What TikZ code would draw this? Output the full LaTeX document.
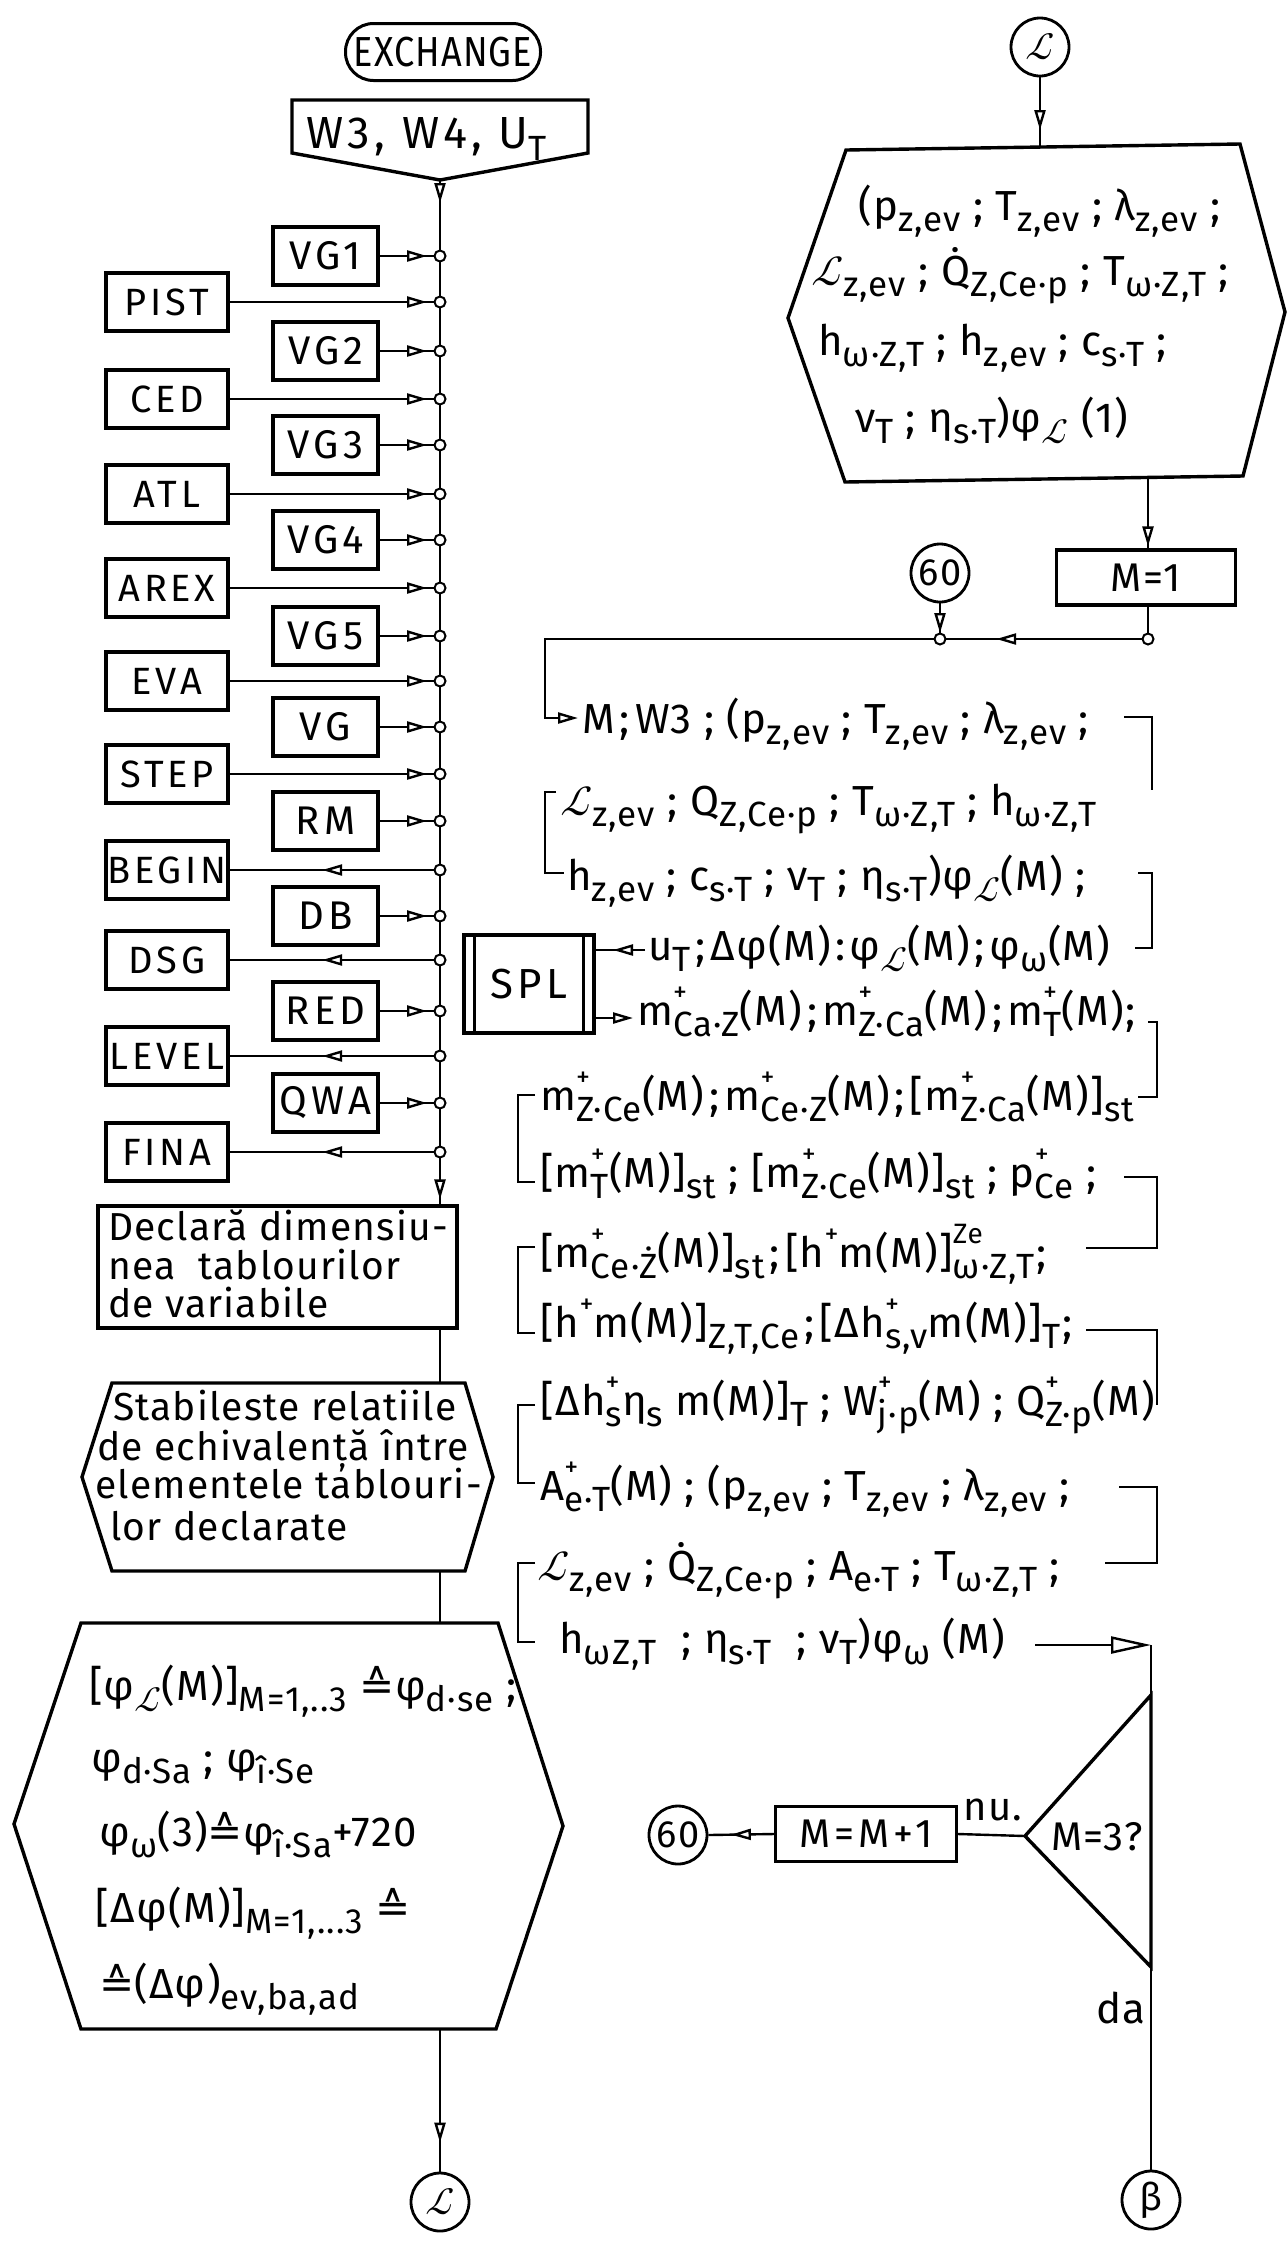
\documentclass[tikz,border=0pt]{standalone}
\usepackage{fontspec}
\setmainfont{Fira Sans}[LetterSpace=3]
\newfontfamily\widefont{Fira Sans}[LetterSpace=10]
\newfontfamily\lmmfont{latinmodern-math.otf}
\newfontfamily\djvfont{DejaVu Sans}
\usetikzlibrary{arrows.meta,decorations.markings,calc}
\newcommand\xSB[1]{\raisebox{-0.27em}{\fontsize{35}{35}\selectfont #1}}
\newcommand\xSP[1]{\raisebox{0.55em}{\fontsize{28}{28}\selectfont #1}}
\newcommand\xPB[2]{\rlap{\xSP{#1}}\xSB{#2}}
\newcommand\scL{{\lmmfont ℒ}}
\newcommand\crs{{\djvfont ≙}}
\newcommand\sm{\hspace{0.12em};\hspace{0.12em}}
\tikzset{
 conn/.style={line width=2.4pt},
 shp/.style={line width=3.4pt, line join=miter},
 bx/.style={draw, line width=3.2pt, inner sep=0pt, font=\fontsize{40}{44}\selectfont},
 lbx/.style={bx, minimum width=122pt, minimum height=58pt, font=\widefont\fontsize{38}{40}\selectfont},
 rbx/.style={bx, minimum width=105pt, minimum height=58pt, font=\widefont\fontsize{40}{44}\selectfont},
 conc/.style={circle, draw, line width=2.8pt, minimum size=58pt, inner sep=0pt, font=\fontsize{38}{40}\selectfont},
 junc/.style={circle, draw, fill=white, line width=2pt, minimum size=11pt, inner sep=0pt},
 txt/.style={inner sep=0pt, anchor=base west, font=\fontsize{42}{46}\selectfont},
 ltxt/.style={inner sep=0pt, anchor=base west, font=\fontsize{39}{42}\selectfont},
 brk/.style={line width=2.4pt},
 marr/.style={postaction={decorate}, decoration={markings, mark=at position #1 with {\arrow{Triangle[length=20pt,width=11pt,fill=white]}}}},
 tipend/.style={-{Triangle[length=20pt,width=11pt,fill=white]}},
 bigend/.style={-{Triangle[length=40pt,width=17pt,fill=white]}},
}
\newcommand\lbox[2]{\node[lbx] (#1) at (167,#2) {#1}; \coordinate (j#1) at (440,#2);}
\newcommand\rbox[2]{\node[rbx] (#1) at (325.5,#2) {#1}; \coordinate (j#1) at (440,#2);}
\begin{document}
\begin{tikzpicture}[x=1pt,y=-1pt]
\fill[white] (0,0) rectangle (1288,2244);
\useasboundingbox (0,0) rectangle (1288,2244);

% ---------------- left column ----------------
\node[draw, line width=3pt, rounded corners=28pt, minimum width=195pt, minimum height=57pt, inner sep=0pt, font=\fontsize{42}{44}\selectfont] (exch) at (443,52) {\scalebox{0.86}[1]{EXCHANGE}};
\draw[shp] (292,100) -- (588,100) -- (588,153) -- (440,180) -- (292,153) -- cycle;
\coordinate (w3tip) at (440,180);
\node[txt, font=\widefont\fontsize{45}{48}\selectfont] (w3) at (306,148) {W3, W4, U\xSB{T}};

\rbox{VG1}{256}
\lbox{PIST}{302}
\rbox{VG2}{351}
\lbox{CED}{399}
\rbox{VG3}{445}
\lbox{ATL}{494}
\rbox{VG4}{540}
\lbox{AREX}{588}
\rbox{VG5}{636}
\lbox{EVA}{681}
\rbox{VG}{727}
\lbox{STEP}{774}
\rbox{RM}{821}
\lbox{BEGIN}{870}
\rbox{DB}{916}
\lbox{DSG}{960}
\rbox{RED}{1011}
\lbox{LEVEL}{1056}
\rbox{QWA}{1103}
\lbox{FINA}{1152}

\node[bx, minimum width=359pt, minimum height=122pt] (decl) at (277.5,1267) {};
\node[ltxt] (d1) at (108,1240) {Declară dimensiu-};
\node[ltxt] (d2) at (108,1279) {nea\ \ tablourilor};
\node[ltxt] (d3) at (108,1317) {de variabile};

% main line
\draw[conn, postaction={decorate}, decoration={markings,
   mark=at position 23pt with {\arrow{Triangle[length=20pt,width=11pt,fill=white]}},
   mark=at position -5pt with {\arrow{Triangle[length=20pt,width=11pt,fill=white]}}}]
   (w3tip) -- (w3tip |- decl.north);

\foreach \n in {VG1,PIST,VG2,CED,VG3,ATL,VG4,AREX,VG5,EVA,VG,STEP,RM,DB,RED,QWA}
  \draw[conn, marr=-13pt] (\n) -- (j\n);
\foreach \n in {BEGIN,DSG,LEVEL,FINA}
  \draw[conn, marr=0.56] (j\n) -- (\n);
\foreach \n in {VG1,PIST,VG2,CED,VG3,ATL,VG4,AREX,VG5,EVA,VG,STEP,RM,BEGIN,DB,DSG,RED,LEVEL,QWA,FINA}
  \node[junc] at (j\n) {};

% Stabileste hexagon
\draw[shp] (112,1383) -- (465,1383) -- (493,1477) -- (465,1571) -- (112,1571) -- (82,1477) -- cycle;
\coordinate (stabtop) at (440,1383);
\coordinate (stabbot) at (440,1571);
\node[ltxt] (s1) at (113,1420) {Stabileste relatiile};
\node[ltxt] (s2) at (97,1460) {de echivalență între};
\node[ltxt] (s3) at (95,1498) {elementele tablouri-};
\node[ltxt] (s4) at (110,1540) {lor declarate};
\draw[conn] (decl.south -| w3tip) -- (stabtop);

% big hexagon
\draw[shp] (81,1623) -- (498,1623) -- (563,1826) -- (496,2029) -- (81,2029) -- (14,1824) -- cycle;
\coordinate (bigtop) at (440,1623);
\coordinate (bigbot) at (440,2029);
\draw[conn] (stabbot) -- (bigtop);
\node[txt] (b1) at (89,1700) {[φ\xSB{\scL}(M)]\xSB{M=1,..3} \crs φ\xSB{d·se} ;};
\node[txt] (b2) at (91,1772) {φ\xSB{d·Sa} ; φ\xSB{î·Se}};
\node[txt] (b3) at (99,1846) {φ\xSB{ω}(3)\crs φ\xSB{î·Sa}+720};
\node[txt] (b4) at (95,1922) {[Δφ(M)]\xSB{M=1,...3} \crs};
\node[txt] (b5) at (99,1998) {\crs(Δφ)\xSB{ev,ba,ad}};
\node[conc] (Lb) at (440,2202) {\scL};
\draw[conn, marr=-29pt] (bigbot) -- (Lb);

% ---------------- right column ----------------
\node[conc] (Lt) at (1040,47) {\scL};
\draw[shp] (846,150) -- (1240,144) -- (1285,312) -- (1243,476) -- (845,482) -- (788,318) -- cycle;
\coordinate (htop) at (1040,147);
\coordinate (hbot) at (1148,477);
\draw[conn, marr=-17pt] (Lt) -- (htop);
\node[txt] (h1) at (858,220) {(p\xSB{z,ev} ; T\xSB{z,ev} ; λ\xSB{z,ev} ;};
\node[txt] (h2) at (811,285) {\scL\xSB{z,ev} ; \.{Q}\xSB{Z,Ce·p} ; T\xSB{ω·Z,T} ;};
\node[txt] (h3) at (818,355) {h\xSB{ω·Z,T} ; h\xSB{z,ev} ; c\xSB{s·T} ;};
\node[txt] (h4) at (855,432) {ν\xSB{T} ; η\xSB{s·T})φ\xSB{\scL} (1)};

\node[bx, minimum width=179pt, minimum height=55pt] (m1) at (1146,577.5) {M=1};
\draw[conn, marr=-2pt] (hbot) -- (hbot |- m1.north);
\coordinate (jR) at (1148,639);
\draw[conn] (m1.south -| jR) -- (jR);
\node[conc] (c60a) at (940,573) {60};
\coordinate (jL) at (940,639);
\draw[conn, marr=-6pt] (c60a) -- (jL);
\draw[conn, marr=0.73] (jR) -- (jL);
\coordinate (le) at (578,718);
\draw[conn, tipend] (jL) -- (545,639) |- (le);
\node[junc] at (jR) {};
\node[junc] at (jL) {};

% text block
\node[txt] (l1) at (582,733) {M\sm W3 ; (p\xSB{z,ev} ; T\xSB{z,ev} ; λ\xSB{z,ev} ;};
\node[txt] (l2) at (560,815) {\scL\xSB{z,ev} ; Q\xSB{Z,Ce·p} ; T\xSB{ω·Z,T} ; h\xSB{ω·Z,T}};
\node[txt] (l3) at (567,890) {h\xSB{z,ev} ; c\xSB{s·T} ; ν\xSB{T} ; η\xSB{s·T})φ\xSB{\scL}(M) ;};
\node[txt] (l4) at (648,960) {u\xSB{T}\sm Δφ(M)\hspace{0.1em}:\hspace{0.1em}φ\xSB{\scL}(M)\sm φ\xSB{ω}(M)};
\node[txt] (l5) at (637,1025) {m\xPB{+}{Ca·Z}(M)\sm m\xPB{+}{Z·Ca}(M)\sm m\xPB{+}{T}(M)\hspace{0.05em};};
\node[txt] (l6) at (540,1110) {m\xPB{+}{Z·Ce}(M)\sm m\xPB{+}{Ce·Z}(M)\sm [m\xPB{+}{Z·Ca}(M)]\xSB{st}};
\node[txt] (l7) at (540,1187) {[m\xPB{+}{T}(M)]\xSB{st} ; [m\xPB{+}{Z·Ce}(M)]\xSB{st} ; p\xPB{+}{Ce} ;};
\node[txt] (l8) at (540,1267) {[m\xPB{+}{Ce·Ż}(M)]\xSB{st}\sm [h\xSP{+}m(M)]\xPB{Ze}{ω·Z,T}\hspace{0.05em};};
\node[txt] (l9) at (540,1337) {[h\xSP{+}m(M)]\xSB{Z,T,Ce}\sm [Δh\xPB{+}{s,v}m(M)]\xSB{T}\hspace{0.05em};};
\node[txt] (l10) at (540,1415) {[Δh\xPB{+}{s}η\xSB{s} m(M)]\xSB{T} ; W\xPB{+}{j·p}(M) ; Q\xPB{+}{Z·p}(M)};
\node[txt] (l11) at (540,1500) {A\xPB{+}{e·T}(M) ; (p\xSB{z,ev} ; T\xSB{z,ev} ; λ\xSB{z,ev} ;};
\node[txt] (l12) at (537,1580) {\scL\xSB{z,ev} ; \.{Q}\xSB{Z,Ce·p} ; A\xSB{e·T} ; T\xSB{ω·Z,T} ;};
\node[txt] (l13) at (559,1653) {h\xSB{ωZ,T}\ \ ; η\xSB{s·T}\ \ ; ν\xSB{T})φ\xSB{ω}\ (M)};

% brackets left
\draw[brk] (556,792) -- (545,792) -- (545,873) -- (564,873);
\draw[brk] (535,1095) -- (518,1095) -- (518,1182) -- (535,1182);
\draw[brk] (535,1247) -- (518,1247) -- (518,1333) -- (535,1333);
\draw[brk] (535,1405) -- (518,1405) -- (518,1483) -- (535,1483);
\draw[brk] (535,1563) -- (518,1563) -- (518,1642) -- (535,1642);
% brackets right
\draw[brk] (1124,717) -- (1152,717) -- (1152,790);
\draw[brk] (1138,873) -- (1152,873) -- (1152,948) -- (1135,948);
\draw[brk] (1148,1022) -- (1157,1022) -- (1157,1097) -- (1138,1097);
\draw[brk] (1124,1177) -- (1157,1177) -- (1157,1248) -- (1086,1248);
\draw[brk] (1086,1330) -- (1157,1330) -- (1157,1405);
\draw[brk] (1119,1487) -- (1157,1487) -- (1157,1563) -- (1105,1563);

% SPL
\node[bx, minimum width=130pt, minimum height=98pt, font=\widefont\fontsize{42}{44}\selectfont] (spl) at (529,984) {SPL};
\draw[conn] ($(spl.north west)+(12,0)$) -- ($(spl.south west)+(12,0)$);
\draw[conn] ($(spl.north east)+(-12,0)$) -- ($(spl.south east)+(-12,0)$);
\coordinate (c4) at (645,950);
\draw[conn, marr=32pt] (c4) -- (spl.east |- c4);
\coordinate (c5) at (633,1018);
\draw[conn, tipend] (spl.east |- c5) -- (c5);

% decision
\coordinate (c13s) at (1035,1645);
\coordinate (c13e) at (1151,1645);
\draw[conn, bigend] (c13s) -- (c13e);
\draw[shp] (1151,1695) -- (1025,1836) -- (1151,1967) -- cycle;
\coordinate (tapex) at (1025,1836);
\node[inner sep=0pt, font=\fontsize{40}{42}\selectfont] (q3) at (1097,1837) {M=3?};
\node[bx, minimum width=181pt, minimum height=55pt, font=\widefont\fontsize{40}{44}\selectfont] (mm) at (866,1834) {M=M+1};
\draw[conn] (tapex) -- (mm.east);
\node[inner sep=0pt, font=\fontsize{40}{42}\selectfont] (nu) at (993,1810) {nu.};
\node[conc] (c60b) at (678,1835) {60};
\draw[conn, marr=43pt] (mm.west) -- (c60b.east);
\node[inner sep=0pt, font=\fontsize{42}{44}\selectfont] (da) at (1121,2008) {da};
\node[conc] (beta) at (1151,2200) {β};
\draw[conn] (c13e) -- (beta);
\end{tikzpicture}
\end{document}
